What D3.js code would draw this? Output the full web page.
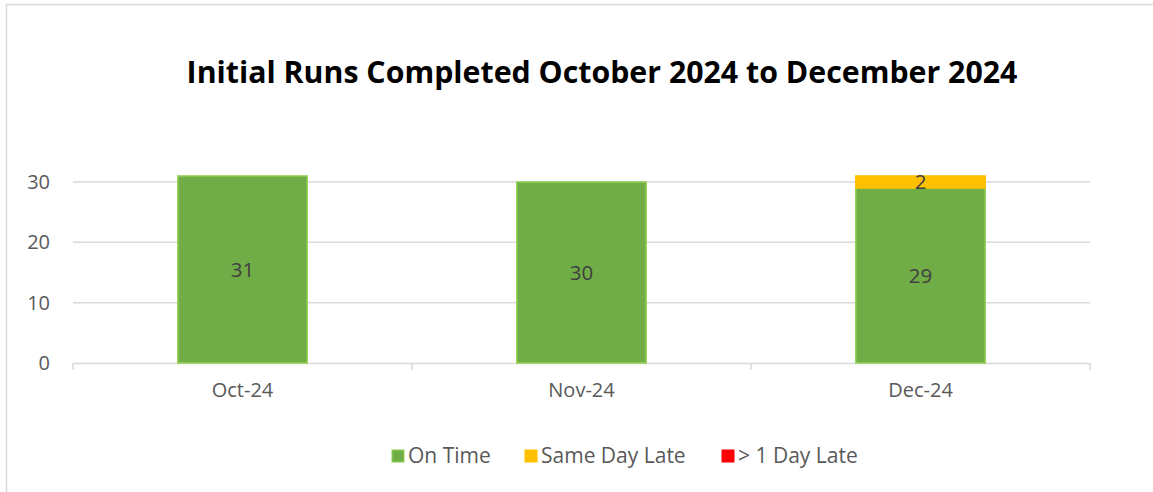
<!DOCTYPE html>
<html>
<head>
<meta charset="utf-8">
<style>
	body { margin: 0; background: #fff; }
	svg { display: block; font-family: "Open Sans", sans-serif; }
	.axis text { fill: #595959; font-size: 20px; font-family: "Open Sans", sans-serif; }
	.axis path, .axis line { stroke: #d9d9d9; }
	.grid line { stroke: #d9d9d9; stroke-width: 1.5px; }
	.label { fill: #404040; font-size: 20.5px; }
	.legend text { fill: #595959; font-size: 21px; }
</style>
<script src="https://d3js.org/d3.v7.min.js"></script>
</head>
<body>
<script>
	// chart values
	var months = ["Oct-24", "Nov-24", "Dec-24"];
	var onTime = [31, 30, 29];
	var sameDayLate = [0, 0, 2];
	var overOneDayLate = [0, 0, 0];
	var seriesNames = ["On Time", "Same Day Late", "> 1 Day Late"];
	var seriesColors = ["#70AD47", "#FFC000", "#FF0000"];
	var seriesStroke = ["#92D050", "#FFC000", "#FF0000"];
	var yTicks = [0, 10, 20, 30];
	var title = "Initial Runs Completed October 2024 to December 2024";

	var width = 1153, height = 492;
	var plotLeft = 73, plotRight = 1090, plotTop = 182, plotBottom = 363;

	var rows = months.map(function(m, i) {
		return {month: m, s0: onTime[i], s1: sameDayLate[i], s2: overOneDayLate[i]};
	});
	var stack = d3.stack().keys(["s0", "s1", "s2"])(rows);

	var svg = d3.select("body").append("svg")
		.attr("width", width)
		.attr("height", height);

	// chart border (right and bottom edges fall outside the frame)
	svg.append("rect")
		.attr("x", 6.5).attr("y", 4.5)
		.attr("width", 1160).attr("height", 500)
		.attr("fill", "#fff")
		.attr("stroke", "#d9d9d9")
		.attr("stroke-width", 1.5);

	svg.append("text")
		.attr("x", 602).attr("y", 83)
		.attr("text-anchor", "middle")
		.style("font-size", "30.3px")
		.style("font-weight", "bold")
		.attr("fill", "#000")
		.text(title);

	var x = d3.scaleBand()
		.domain(months)
		.range([plotLeft, plotRight])
		.paddingInner(0.614)
		.paddingOuter(0.307);

	var y = d3.scaleLinear()
		.domain([0, 30])
		.range([plotBottom, plotTop]);

	// gridlines
	svg.append("g").attr("class", "grid")
		.selectAll("line")
		.data(yTicks.filter(function(d) { return d > 0; }))
		.join("line")
		.attr("x1", plotLeft).attr("x2", plotRight)
		.attr("y1", function(d) { return y(d); })
		.attr("y2", function(d) { return y(d); });

	// y axis labels only
	var yAxis = svg.append("g")
		.attr("class", "axis")
		.attr("transform", "translate(" + plotLeft + ",0)")
		.call(d3.axisLeft(y).tickValues(yTicks).tickSize(0).tickPadding(23));
	yAxis.select(".domain").remove();

	// x axis with ticks at category boundaries
	var xAxis = svg.append("g")
		.attr("class", "axis")
		.attr("transform", "translate(0," + plotBottom + ")")
		.call(d3.axisBottom(x).tickSize(0).tickPadding(20));
	xAxis.select(".domain").attr("stroke-width", 1.5);
	xAxis.selectAll(".tick text").attr("dy", "0.71em");
	var step = x.step();
	xAxis.selectAll(".sep")
		.data(d3.range(months.length + 1))
		.join("line")
		.attr("x1", function(i) { return plotLeft + i * step; })
		.attr("x2", function(i) { return plotLeft + i * step; })
		.attr("y1", 0).attr("y2", 7)
		.attr("stroke", "#d9d9d9")
		.attr("stroke-width", 1.5);

	// stacked bars
	var layers = svg.append("g").selectAll("g")
		.data(stack)
		.join("g")
		.attr("fill", function(d, i) { return seriesColors[i]; })
		.attr("stroke", function(d, i) { return seriesStroke[i]; });

	layers.selectAll("rect")
		.data(function(d) { return d.filter(function(p) { return p[1] - p[0] > 0; }); })
		.join("rect")
		.attr("x", function(p) { return x(p.data.month) + 0.75; })
		.attr("width", x.bandwidth() - 1.5)
		.attr("y", function(p) { return y(p[1]); })
		.attr("height", function(p) { return y(p[0]) - y(p[1]); })
		.attr("stroke-width", 1.5);

	// data labels
	stack.forEach(function(layer) {
		svg.append("g").selectAll("text")
			.data(layer.filter(function(p) { return p[1] - p[0] > 0; }))
			.join("text")
			.attr("class", "label")
			.attr("x", function(p) { return x(p.data.month) + x.bandwidth() / 2; })
			.attr("y", function(p) { return (y(p[0]) + y(p[1])) / 2; })
			.attr("dy", "0.35em")
			.attr("text-anchor", "middle")
			.text(function(p) { return p[1] - p[0]; });
	});

	// legend
	var legendX = [392, 525, 722];
	var legend = svg.append("g").attr("class", "legend")
		.selectAll("g")
		.data(seriesNames)
		.join("g")
		.attr("transform", function(d, i) { return "translate(" + legendX[i] + ",450)"; });
	legend.append("rect")
		.attr("width", 12).attr("height", 12)
		.attr("fill", function(d, i) { return seriesColors[i]; })
		.attr("stroke", function(d, i) { return seriesStroke[i]; });
	legend.append("text")
		.attr("x", 16).attr("y", 6)
		.attr("dy", "0.35em")
		.text(function(d) { return d; });
</script>
</body>
</html>
